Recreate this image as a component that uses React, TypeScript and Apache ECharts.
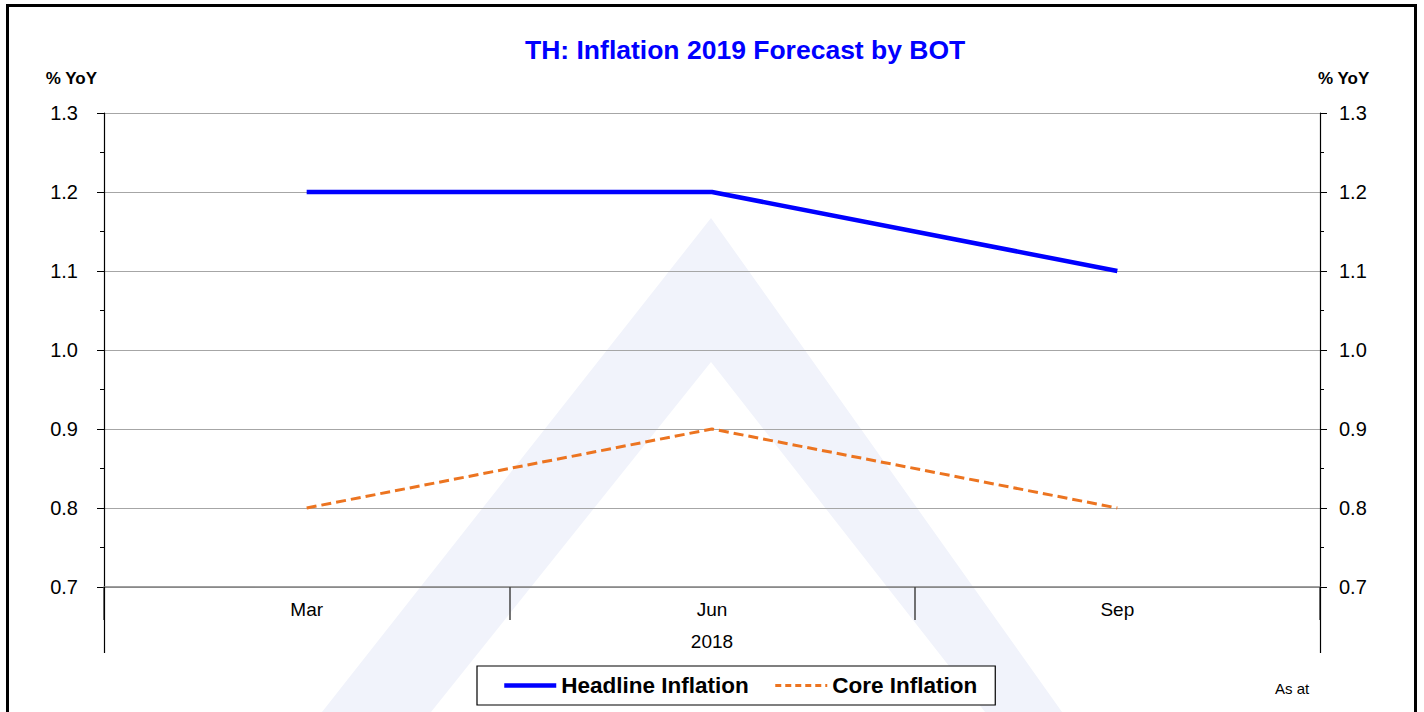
import React, { useEffect, useRef } from "react";
import * as echarts from "echarts";

const categories = ["Mar", "Jun", "Sep"];
const groupLabels = ["2018"];
const headline = [1.2, 1.2, 1.1];
const core = [0.8, 0.9, 0.8];
const seriesNames = ["Headline Inflation", "Core Inflation"];
const titleText = "TH: Inflation 2019 Forecast by BOT";
const unitLabel = "% YoY";
const noteText = "As at";

const FONT = "'Liberation Sans', Arial, Helvetica, sans-serif";
const BLUE = "#0000ff";
const ORANGE = "#EC7420";

export default function App() {
  const ref = useRef<HTMLDivElement>(null);
  useEffect(() => {
    if (!ref.current) return;
    const chart = echarts.init(ref.current, null, { renderer: "svg" });
    const yAxisCommon = {
      type: "value",
      min: 0.7,
      max: 1.3,
      interval: 0.1,
      name: unitLabel,
      nameLocation: "end",
      nameGap: 26,
      axisLine: { show: true, lineStyle: { color: "#000", width: 1.2 } },
      axisTick: { show: true, length: 7, lineStyle: { color: "#000", width: 1 } },
      minorTick: { show: true, splitNumber: 2, length: 4, lineStyle: { color: "#000", width: 1 } },
      axisLabel: {
        fontFamily: FONT,
        fontSize: 20,
        color: "#000",
        formatter: (v: number) => v.toFixed(1),
      },
    };
    const nameStyle = {
      fontFamily: FONT,
      fontSize: 17,
      fontWeight: "bold",
      color: "#000",
    };
    chart.setOption({
      animation: false,
      backgroundColor: "#fff",
      textStyle: { fontFamily: FONT },
      title: {
        text: titleText,
        left: 525,
        top: 36,
        padding: 0,
        textStyle: { fontFamily: FONT, fontSize: 26.5, fontWeight: "bold", color: BLUE },
      },
      graphic: [
        {
          type: "polygon",
          z: -10,
          silent: true,
          shape: {
            points: [
              [322, 712],
              [711, 218],
              [1062, 712],
              [985, 712],
              [711, 362],
              [431, 712],
            ],
          },
          style: { fill: "#f1f3fb" },
        },
        {
          type: "rect",
          z: 100,
          silent: true,
          shape: { x: 7.5, y: 5.5, width: 1408, height: 720 },
          style: { fill: "none", stroke: "#000", lineWidth: 3 },
        },
        {
          type: "text",
          z: 100,
          x: 1275,
          y: 688,
          style: {
            text: noteText,
            fontFamily: FONT,
            fontSize: 15,
            fill: "#000",
            verticalAlign: "middle",
            align: "left",
          },
        },
      ],
      legend: {
        left: 477,
        top: 666,
        orient: "horizontal",
        itemWidth: 52,
        itemHeight: 14,
        itemGap: 25,
        padding: [7, 18, 7, 25],
        borderColor: "#000",
        borderWidth: 1.2,
        backgroundColor: "#fff",
        itemStyle: { opacity: 0, color: "rgba(0,0,0,0)", borderWidth: 0 },
        textStyle: { fontFamily: FONT, fontSize: 22.5, fontWeight: "bold", color: "#000", lineHeight: 25 },
        data: [
          { name: seriesNames[0], lineStyle: { color: BLUE, width: 4.5, type: "solid" } },
          { name: seriesNames[1], lineStyle: { color: ORANGE, width: 3, type: [6, 4] } },
        ],
      },
      grid: { left: 104, right: 104, top: 113, bottom: 125, containLabel: false },
      xAxis: [
        {
          type: "category",
          data: categories,
          boundaryGap: true,
          axisLine: { show: true, lineStyle: { color: "#808080", width: 1.5 } },
          axisTick: { show: true, length: 33, lineStyle: { color: "#444", width: 1.5 } },
          axisLabel: { fontFamily: FONT, fontSize: 19, color: "#000", margin: 13 },
        },
        {
          type: "category",
          data: groupLabels,
          position: "bottom",
          boundaryGap: true,
          axisLine: { show: false },
          axisTick: { show: true, length: 66, lineStyle: { color: "#000", width: 1.2 } },
          axisLabel: { fontFamily: FONT, fontSize: 19, color: "#000", margin: 45 },
        },
      ],
      yAxis: [
        {
          ...yAxisCommon,
          position: "left",
          nameTextStyle: { ...nameStyle, align: "right", padding: [0, 7, 0, 0] },
          splitLine: { show: true, lineStyle: { color: "#a6a6a6", width: 1 } },
          axisLabel: { ...yAxisCommon.axisLabel, margin: 26 },
        },
        {
          ...yAxisCommon,
          position: "right",
          nameTextStyle: { ...nameStyle, align: "left", padding: [0, 0, 0, -2] },
          splitLine: { show: false },
          axisLabel: { ...yAxisCommon.axisLabel, margin: 19 },
        },
      ],
      series: [
        {
          name: seriesNames[0],
          type: "line",
          xAxisIndex: 0,
          yAxisIndex: 0,
          data: headline,
          symbol: "none",
          lineStyle: { color: BLUE, width: 4.5 },
          itemStyle: { color: BLUE },
          z: 5,
        },
        {
          name: seriesNames[1],
          type: "line",
          xAxisIndex: 0,
          yAxisIndex: 0,
          data: core,
          symbol: "none",
          lineStyle: { color: ORANGE, width: 3, type: [10, 5] },
          itemStyle: { color: ORANGE },
          z: 4,
        },
      ],
    });
    return () => chart.dispose();
  }, []);
  return (
    <div
      ref={ref}
      style={{ position: "absolute", left: 0, top: 0, width: 1424, height: 712 }}
    />
  );
}
